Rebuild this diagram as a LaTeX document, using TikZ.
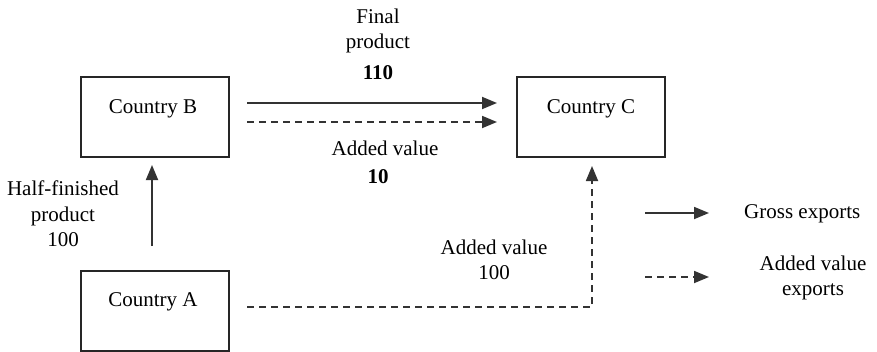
\documentclass[tikz,border=0pt]{standalone}
\usepackage{fontspec}
\setmainfont{LiberationSerif}[Extension=.ttf,UprightFont=*-Regular,BoldFont=*-Bold,ItalicFont=*-Italic,BoldItalicFont=*-BoldItalic]
\usetikzlibrary{arrows.meta}
\begin{document}
\begin{tikzpicture}[x=1pt,y=-1pt,
  country/.style={draw=black!85,line width=1.6pt,minimum width=148pt,minimum height=80pt,
    anchor=north west,inner sep=0pt},
  ctext/.style={font=\rmfamily\fontsize{21}{25}\selectfont,inner sep=0pt},
  lbl/.style={font=\rmfamily\fontsize{21}{25.5}\selectfont,align=center,inner sep=0pt},
  blbl/.style={lbl,font=\rmfamily\fontsize{21}{25.5}\selectfont\bfseries},
  flow/.style={draw=black!80,line width=1.8pt,-{Triangle[length=15pt,width=12pt]}},
  vflow/.style={flow,dashed,dash pattern=on 7pt off 5pt}]
\useasboundingbox (0,0) rectangle (877,351);
% countries
\node[country] (B) at (80,76) {};
\node[country] (C) at (516,76) {};
\node[country] (A) at (80,270) {};
\node[ctext] (tB) at (153,109) {Country B};
\node[ctext] (tC) at (591,109) {Country C};
\node[ctext] (tA) at (153,302) {Country A};
% flows between countries
\coordinate (b1) at (247,103);
\coordinate (c1) at (497,103);
\coordinate (b2) at (247,122);
\coordinate (c2) at (497,122);
\draw[flow] (b1) -- (c1);
\draw[vflow] (b2) -- (c2);
\coordinate (a0) at (152,246);
\coordinate (b0) at (152,165);
\draw[flow] (a0) -- (b0);
\coordinate (a3) at (247,307);
\coordinate (k3) at (592,307);
\coordinate (c3) at (592,166);
\draw[vflow] (a3) -- (k3) -- (c3);
% labels
\node[lbl] (fp) at (378,31) {Final\\product};
\node[blbl] (n110) at (378,73) {110};
\node[lbl] (av1) at (385,148) {Added value};
\node[blbl] (n10) at (378,177) {10};
\node[lbl] (hf) at (63,214) {Half-finished\\product\\100};
\node[lbl] (av2) at (494,260) {Added value\\100};
% legend
\coordinate (g1) at (645,213);
\coordinate (g2) at (709,213);
\draw[flow] (g1) -- (g2);
\node[lbl,anchor=west] (ge) at (744,214) {Gross exports};
\coordinate (v1) at (645,277);
\coordinate (v2) at (709,277);
\draw[vflow] (v1) -- (v2);
\node[lbl] (ve) at (813,278) {Added value\\exports};
\end{tikzpicture}
\end{document}
